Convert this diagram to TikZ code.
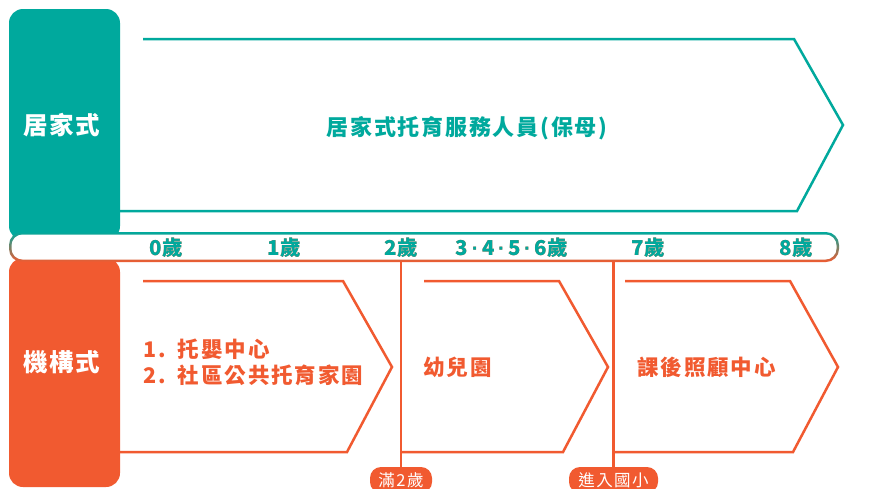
\documentclass[tikz,border=0pt]{standalone}
\usepackage{fontspec}
\setmainfont{Noto Sans CJK TC}
\newfontfamily\dotfont{Liberation Sans}
\usetikzlibrary{fadings}
\definecolor{tealc}{HTML}{00A99D}
\definecolor{orngc}{HTML}{F15A30}
\newcommand{\md}{{\dotfont\bfseries\,·\,}}
\tikzset{
  tealline/.style={draw=tealc, line width=2.5pt, line join=miter},
  orline/.style={draw=orngc, line width=2.5pt, line join=miter},
  sidebox/.style={fill=#1, draw=none, rounded corners=14pt, inner sep=0pt},
  sidelabel/.style={text=white, inner sep=0pt, font=\fontsize{24.5}{28}\selectfont\bfseries\addfontfeature{LetterSpace=7}},
  agelabel/.style={inner sep=0pt, font=\fontsize{20.5}{24}\selectfont\bfseries\addfontfeature{LetterSpace=3}},
  boxtext/.style={text=orngc, inner sep=0pt, anchor=west, align=left, font=\fontsize{21.5}{26}\selectfont\bfseries\addfontfeature{LetterSpace=9}},
  titletext/.style={text=tealc, inner sep=0pt, font=\fontsize{22}{24}\selectfont\bfseries\addfontfeature{LetterSpace=8}},
  pill/.style={fill=orngc, text=white, rounded corners=11pt, inner sep=0pt, minimum height=26pt, font=\fontsize{16.5}{18}\selectfont\addfontfeature{LetterSpace=9}}
}
\begin{document}
\begin{tikzpicture}[x=1pt,y=-1pt]
\clip (0,0) rectangle (872,488);
\fill[white] (0,0) rectangle (872,488);
% side boxes
\node[sidebox=tealc, minimum width=111pt, minimum height=231pt] (home) at (64.5,124.5) {};
\node[sidelabel] (homelabel) at (62,125) {居家式};
\node[sidebox=orngc, minimum width=111pt, minimum height=229pt] (inst) at (64.5,372.5) {};
\node[sidelabel] (instlabel) at (62,362) {機構式};
% teal chevron
\draw[tealline] (143,39) -- (794,39) -- (843,125) -- (797,211) -- (120,211);
\node[titletext] (title) at (467,128) {居家式托育服務人員(保母)};
% orange chevrons
\draw[orline] (143,281) -- (343,281) -- (392,367) -- (347,452) -- (120,452);
\draw[orline] (424,281) -- (559,281) -- (608,367) -- (563,452) -- (401,452);
\draw[orline] (625,281) -- (790,281) -- (838,367) -- (793,452) -- (614,452);
\node[boxtext] (c1) at (143,362) {1.\hspace{12pt}托嬰中心\\2.\hspace{12pt}社區公共托育家園};
\node[boxtext] (c2) at (423,367) {幼兒園};
\node[boxtext] (c3) at (637,367) {課後照顧中心};
% age bar
\node[top color=tealc, bottom color=orngc, rounded corners=13pt, minimum width=830pt, minimum height=30pt, inner sep=0pt] (bar) at (424,247) {};
\node[fill=white, rounded corners=11pt, minimum width=825pt, minimum height=25pt, inner sep=0pt] (barin) at (424,247) {};
\foreach \n/\x/\t in {a0/166/0歲, a1/284/1歲, a2/401/2歲, a3/512/3\md 4\md 5\md 6歲, a7/648/7歲, a8/796/8歲}
  \node[agelabel, text=orngc] (\n) at (\x,248) {\t};
\begin{scope}[scope fading=south]
\foreach \n/\x/\t in {a0/166/0歲, a1/284/1歲, a2/401/2歲, a3/512/3\md 4\md 5\md 6歲, a7/648/7歲, a8/796/8歲}
  \node[agelabel, text=tealc] (\n t) at (\x,248) {\t};
\end{scope}
% milestone pills
\node[pill, minimum width=62pt] (p2) at (401,480) {滿2歲};
\node[pill, minimum width=89pt] (p6) at (613.5,480) {進入國小};
\draw[orline] (bar.south -| p2.north) -- (p2.north);
\draw[orline] (bar.south -| p6.north) -- (p6.north);
\end{tikzpicture}
\end{document}
